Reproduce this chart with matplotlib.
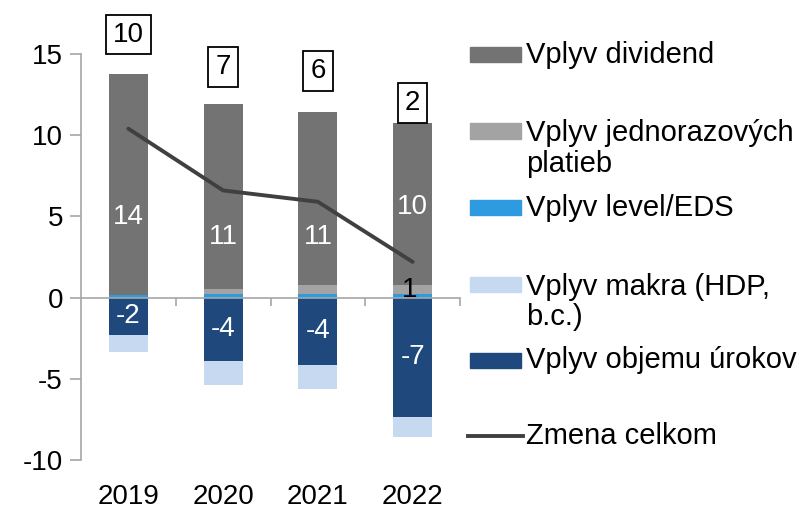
import matplotlib
matplotlib.use("Agg")
import matplotlib.pyplot as plt
from matplotlib.patches import Rectangle
from matplotlib.lines import Line2D
import numpy as np

plt.rcParams["font.family"] = ["Liberation Sans", "DejaVu Sans"]
plt.rcParams["axes.unicode_minus"] = False

years = ["2019", "2020", "2021", "2022"]
dividend = [13.6, 11.4, 10.65, 10.0]
jednoraz = [0.0, 0.3, 0.55, 0.55]
level_eds = [0.15, 0.2, 0.2, 0.2]
makra = [-1.05, -1.5, -1.5, -1.25]
objem = [-2.3, -3.9, -4.15, -7.35]
zmena = [10.4, 6.6, 5.9, 2.2]

series_names = ["Vplyv dividend", "Vplyv jednorazových\nplatieb", "Vplyv level/EDS",
                "Vplyv makra (HDP,\nb.c.)", "Vplyv objemu úrokov", "Zmena celkom"]

C_DIV = "#737373"
C_JED = "#a3a3a3"
C_EDS = "#2e9be0"
C_MAK = "#c6d9f1"
C_OBJ = "#1f497d"
C_LINE = "#404040"
AXC = "#a6a6a6"

W, H = 809, 511
fig = plt.figure(figsize=(W / 100, H / 100), dpi=100)
ax = fig.add_axes([81 / W, 51 / H, 379 / W, 406 / H])

x = np.arange(len(years))
bw = 0.41
dividend = np.array(dividend)
jednoraz = np.array(jednoraz)
level_eds = np.array(level_eds)
makra = np.array(makra)
objem = np.array(objem)

ax.bar(x, level_eds, bw, color=C_EDS, zorder=2)
ax.bar(x, jednoraz, bw, bottom=level_eds, color=C_JED, zorder=2)
ax.bar(x, dividend, bw, bottom=level_eds + jednoraz, color=C_DIV, zorder=2)
ax.bar(x, objem, bw, color=C_OBJ, zorder=2)
ax.bar(x, makra, bw, bottom=objem, color=C_MAK, zorder=2)
ax.plot(x, zmena, color=C_LINE, lw=2.8, zorder=3, solid_capstyle="round")

FS = 20
# labels inside dividend bars (moved off the line like in the original)
div_label_y = [4.95, 3.75, 3.75, 5.6]
for xi, v, yl in zip(x, dividend, div_label_y):
    ax.text(xi, yl, f"{round(v):.0f}", color="white", ha="center", va="center",
            fontsize=FS, zorder=4)
for xi, v in zip(x, objem):
    ax.text(xi, v / 2, f"{round(v):.0f}", color="white", ha="center", va="center",
            fontsize=FS, zorder=4)
# only the 2022 one-off label is shown
ax.text(x[3] - 0.03, level_eds[3] + jednoraz[3] / 2, f"{round(jednoraz[3] + 0.01):.0f}",
        color="black", ha="center", va="center", fontsize=FS, zorder=4)

box_y = [16.2, 14.2, 13.95, 12.0]
for xi, v, yb in zip(x, zmena, box_y):
    ax.text(xi, yb, f"{round(v):.0f}", ha="center", va="center", fontsize=FS,
            zorder=5, clip_on=False,
            bbox=dict(boxstyle="square,pad=0.25", fc="white", ec="black", lw=1.3))

ax.set_xlim(-0.5, 3.5)
ax.set_ylim(-10, 15)
ax.set_yticks([-10, -5, 0, 5, 10, 15])
ax.tick_params(axis="y", direction="out", length=8, width=1.2, color=AXC,
               labelsize=FS, pad=5)
ax.set_xticks([0.5, 1.5, 2.5, 3.5])
ax.set_xticklabels([])
ax.tick_params(axis="x", direction="out", length=6, width=1.2, color=AXC)
ax.spines["bottom"].set_position(("data", 0))
for s in ["top", "right"]:
    ax.spines[s].set_visible(False)
for s in ["left", "bottom"]:
    ax.spines[s].set_color(AXC)
    ax.spines[s].set_linewidth(1.2)

for xi, yr in zip(x, years):
    ax.annotate(yr, (xi, 0), xycoords=("data", "axes fraction"), xytext=(0, -37),
                textcoords="offset pixels", ha="center", va="center", fontsize=FS)

# legend drawn by hand to match the uneven spacing
def fx(px):
    return px / W


def fy(py):
    return 1 - py / H


leg_colors = [C_DIV, C_JED, C_EDS, C_MAK, C_OBJ]
patch_y = [55, 131, 208, 284, 360]
text_y = [55, 148.5, 208, 302, 360]
for c, py, ty, name in zip(leg_colors, patch_y, text_y, series_names[:5]):
    fig.add_artist(Rectangle((fx(470), fy(py + 7.5)), 51 / W, 15 / H,
                             color=c, transform=fig.transFigure))
    fig.text(fx(526), fy(ty), name, ha="left", va="center", fontsize=21,
             linespacing=1.1)
fig.add_artist(Line2D([fx(468), fx(523)], [fy(436), fy(436)], color=C_LINE,
                      lw=2.8, transform=fig.transFigure))
fig.text(fx(526), fy(436), series_names[5], ha="left", va="center", fontsize=21)

fig.savefig("out.png", dpi=100)
